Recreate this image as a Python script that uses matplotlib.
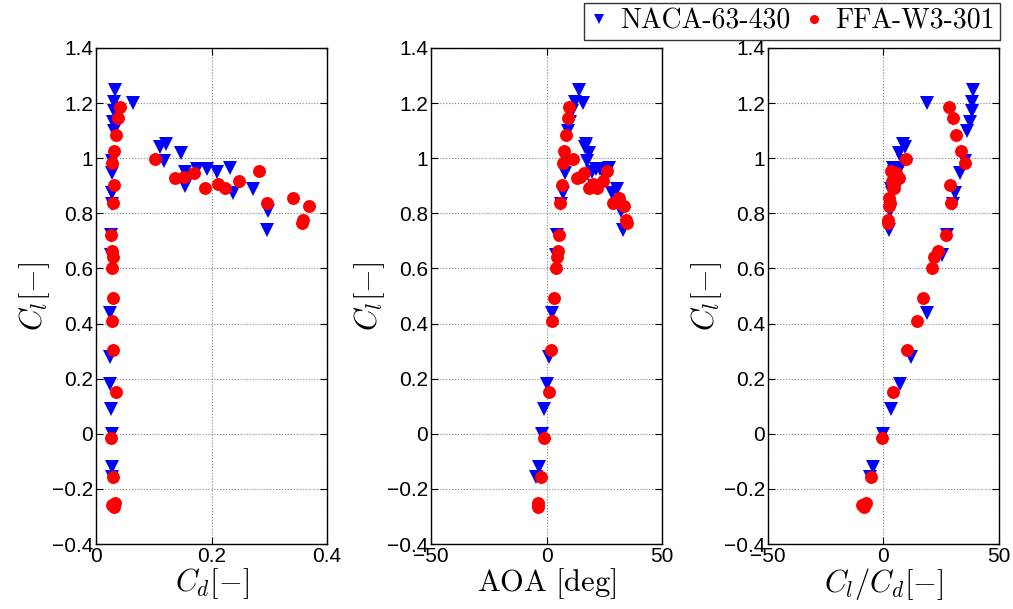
import matplotlib
matplotlib.use("Agg")
import matplotlib.pyplot as plt

# NACA-63-430: angle of attack [deg], lift and drag coefficients
naca_aoa = [-4.4, -3.3, -1.9, -1.1, 0.0, 0.9, 2.3, 3.9, 4.5, 6.3, 7.0, 7.8, 8.5, 9.2,
            10.0, 11.0, 12.5, 14.2, 15.6,
            16.5, 17.1, 17.5, 18.5, 19.5, 20.5, 21.5, 23.0, 24.5, 27.2, 28.5, 30.5, 32.2, 32.9]
naca_cl = [-0.155, -0.12, 0.0, 0.09, 0.18, 0.28, 0.44, 0.65, 0.72, 0.835, 0.875, 0.945, 0.99, 1.10,
           1.13, 1.17, 1.205, 1.247, 1.2,
           1.04, 1.05, 0.99, 1.02, 0.95, 0.90, 0.96, 0.96, 0.95, 0.963, 0.873, 0.89, 0.81, 0.74]
naca_cd = [0.027, 0.027, 0.027, 0.026, 0.025, 0.0235, 0.0235, 0.0258, 0.0263, 0.0277, 0.0282, 0.0285, 0.028, 0.0305,
           0.030, 0.0306, 0.0315, 0.032, 0.064,
           0.111, 0.121, 0.117, 0.148, 0.154, 0.154, 0.174, 0.192, 0.209, 0.232, 0.238, 0.272, 0.298, 0.296]

# FFA-W3-301
ffa_aoa = [-3.8, -3.7, -3.6, -2.6, -0.9, 1.0, 2.0, 2.4, 3.2, 4.2, 4.5, 4.9, 5.2, 5.9, 6.8, 7.0,
           7.5, 8.5, 9.2, 9.9,
           11.3, 13.2, 14.5, 16.4, 18.5, 20.0, 22.0, 24.3, 26.0, 28.6, 31.5, 33.6, 34.5, 34.7]
ffa_cl = [-0.265, -0.258, -0.25, -0.157, -0.015, 0.153, 0.305, 0.41, 0.494, 0.60, 0.64, 0.663, 0.72, 0.836, 0.903, 0.982,
          1.027, 1.084, 1.145, 1.187,
          0.997, 0.927, 0.933, 0.945, 0.893, 0.906, 0.891, 0.917, 0.955, 0.836, 0.854, 0.827, 0.776, 0.764]
ffa_cd = [0.031, 0.028, 0.033, 0.0286, 0.026, 0.035, 0.030, 0.0285, 0.029, 0.0283, 0.029, 0.028, 0.0266, 0.0287, 0.0313, 0.0278,
          0.0306, 0.0346, 0.0378, 0.042,
          0.102, 0.137, 0.153, 0.169, 0.188, 0.211, 0.223, 0.248, 0.282, 0.296, 0.341, 0.369, 0.358, 0.357]

naca_ld = [l / d for l, d in zip(naca_cl, naca_cd)]
ffa_ld = [l / d for l, d in zip(ffa_cl, ffa_cd)]

yticks = [-0.4, -0.2, 0, 0.2, 0.4, 0.6, 0.8, 1, 1.2, 1.4]
ytick_labels = ["\u22120.4", "\u22120.2", "0", "0.2", "0.4", "0.6", "0.8", "1", "1.2", "1.4"]

plt.rcParams["mathtext.fontset"] = "cm"
plt.rcParams["font.family"] = ["Liberation Sans", "DejaVu Sans"]

fig = plt.figure(figsize=(10.13, 6.09), dpi=100)

panels = [
    (0.0948, naca_cd, ffa_cd, (0, 0.4), [0, 0.2, 0.4], ["0", "0.2", "0.4"], r"$C_d[-]$"),
    (0.4255, naca_aoa, ffa_aoa, (-50, 50), [-50, 0, 50], ["\u221250", "0", "50"], r"$\mathrm{AOA\ [deg]}$"),
    (0.7580, naca_ld, ffa_ld, (-50, 50), [-50, 0, 50], ["\u221250", "0", "50"], r"$C_l/C_d[-]$"),
]

handles = None
for left, xn, xf, xlim, xt, xtl, xlabel in panels:
    ax = fig.add_axes([left, 0.1067, 0.228, 0.8145])
    h1, = ax.plot(xn, naca_cl, "v", color="blue", markersize=10.5, markeredgewidth=0)
    h2, = ax.plot(xf, ffa_cl, "o", color="red", markersize=9.3, markeredgewidth=0)
    handles = (h1, h2)
    ax.set_xlim(*xlim)
    ax.set_ylim(-0.4, 1.4)
    ax.set_xticks(xt)
    ax.set_xticklabels(xtl)
    ax.set_yticks(yticks)
    ax.set_yticklabels(ytick_labels)
    ax.tick_params(direction="in", top=True, right=True, labelsize=15, length=5, pad=2)
    ax.grid(True, linestyle=":", color="gray", linewidth=0.8)
    for s in ax.spines.values():
        s.set_linewidth(1.0)
    ax.set_xlabel(xlabel, fontsize=22, labelpad=0)
    ax.set_ylabel(r"$C_l[-]$", fontsize=22, labelpad=0)

leg = fig.legend(handles, ["NACA-63-430", "FFA-W3-301"],
                 loc="upper right", bbox_to_anchor=(0.987, 0.995), ncol=2,
                 prop={"family": "cmr10", "size": 20}, borderaxespad=0,
                 frameon=True, fancybox=False, edgecolor="black", handlelength=0.7,
                 handletextpad=0.4, columnspacing=0.5, borderpad=0.2, markerscale=0.7)
leg.get_frame().set_linewidth(1.0)

fig.savefig("out.png", dpi=100)
